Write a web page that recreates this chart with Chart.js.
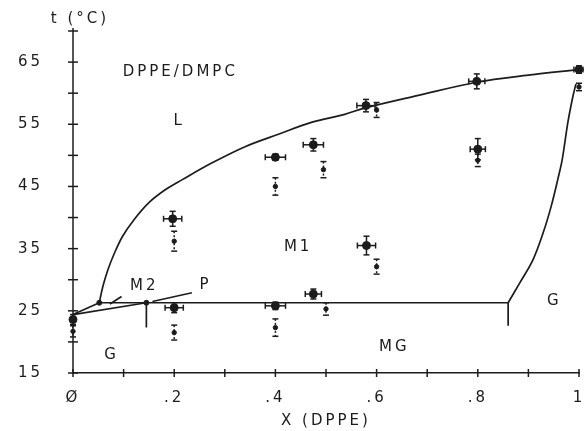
<!DOCTYPE html>
<html lang="en">
<head>
<meta charset="UTF-8">
<title>DPPE/DMPC</title>
<style>
  html, body { margin: 0; padding: 0; background: #fff; }
  #wrap { width: 584px; height: 431px; }
</style>
</head>
<body>
<div id="wrap"><canvas id="myChart"></canvas></div>
<script src="https://cdn.jsdelivr.net/npm/chart.js"></script>
<script>
// tick labels
const xTickValues = [0, 0.2, 0.4, 0.6, 0.8, 1];
const xTickLabels = ['Ø', '.2', '.4', '.6', '.8', '1'];
const yTickValues = [15, 25, 35, 45, 55, 65];
const yTickLabels = ['15', '25', '35', '45', '55', '65'];

// measured points, with x and t error bars
const bigX    = [0,    0.197, 0.2,   0.4,  0.4,  0.475, 0.475, 0.579, 0.58,  0.798, 0.8,   1.0];
const bigT    = [23.6, 39.8,  25.5,  49.7, 25.8, 51.7,  27.7,  58.0,  35.5,  61.9,  51.0,  63.8];
const bigXErr = [0,    0.018, 0.018, 0.02, 0.02, 0.02,  0.016, 0.018, 0.018, 0.016, 0.015, 0.01];
const bigTErr = [0.8,  1.2,   0.8,   0.5,  0.6,  1.0,   0.8,   1.0,   1.5,   1.2,   1.7,   0.6];

// second points, t error bars only
const smallX    = [0,    0.2,  0.2,  0.4,  0.4,  0.495, 0.5,  0.6,  0.6,  0.8,  1.0];
const smallT    = [21.7, 36.2, 21.5, 45.0, 22.3, 47.7,  25.3, 57.3, 32.1, 49.2, 61.0];
const smallTErr = [0.9,  1.6,  1.2,  1.4,  1.4,  1.3,   1.0,  1.2,  1.2,  1.0,  0.6];

// phase boundaries
const upperX = [0.052, 0.059, 0.069, 0.082, 0.098, 0.121, 0.150, 0.183, 0.216, 0.275, 0.34, 0.406, 0.471, 0.537, 0.576, 0.68, 0.8, 0.9, 1.0];
const upperT = [26.3, 28.9, 31.6, 34.3, 37.0, 39.7, 42.4, 44.5, 46.1, 48.8, 51.4, 53.4, 55.3, 56.6, 57.6, 59.6, 61.8, 62.9, 63.8];
const rightX = [0.86, 0.883, 0.909, 0.929, 0.945, 0.958, 0.967, 0.978, 0.988, 0.994];
const rightT = [26.3, 29.5, 33.2, 37.5, 41.8, 46.1, 49.4, 55.3, 59.5, 61.5];
const flatX = [0.052, 0.86];
const flatT = [26.3, 26.3];
const m2X = [0, 0.052];
const m2T = [24.4, 26.3];
const pX = [0, 0.145];
const pT = [24.4, 26.3];
const pMarkX = [0.145, 0.145];
const pMarkT = [26.3, 22.3];
const gMarkX = [0.86, 0.86];
const gMarkT = [26.3, 22.6];
const m2LeadX = [0.073, 0.096];
const m2LeadT = [26.1, 27.3];
const pLeadX = [0.157, 0.235];
const pLeadT = [26.5, 27.9];
const junctionX = [0.052, 0.145];
const junctionT = [26.3, 26.3];

// region labels
const regionText = ['DPPE/DMPC', 'L', 'M1', 'M2', 'P', 'G', 'MG', 'G'];
const regionX    = [0.212, 0.21, 0.445, 0.141, 0.262, 0.076, 0.635, 0.951];
const regionT    = [63.4,  55.5, 35.2,  29.0,  29.2,  17.9,  19.2,  26.5];

const ink = '#1c1c1c';
const pts = (xs, ts) => xs.map((x, i) => ({x: x, y: ts[i]}));

function lineSet(xs, ts, smooth) {
  return {
    type: 'line', data: pts(xs, ts), showLine: true,
    borderColor: ink, borderWidth: 1.7, pointRadius: 0,
    tension: smooth ? 0.35 : 0, clip: false
  };
}

const errorBars = {
  id: 'errorBars',
  afterDatasetsDraw(chart) {
    const c = chart.ctx, xs = chart.scales.x, ys = chart.scales.y;
    c.save();
    c.strokeStyle = ink;
    c.lineWidth = 1.5;
    const seg = (x1, y1, x2, y2) => { c.beginPath(); c.moveTo(x1, y1); c.lineTo(x2, y2); c.stroke(); };
    bigX.forEach((v, i) => {
      const px = xs.getPixelForValue(v), py = ys.getPixelForValue(bigT[i]);
      const t1 = ys.getPixelForValue(bigT[i] + bigTErr[i]), t2 = ys.getPixelForValue(bigT[i] - bigTErr[i]);
      seg(px, t1, px, t2); seg(px - 3, t1, px + 3, t1); seg(px - 3, t2, px + 3, t2);
      if (bigXErr[i] > 0) {
        const x1 = xs.getPixelForValue(v - bigXErr[i]), x2 = xs.getPixelForValue(v + bigXErr[i]);
        seg(x1, py, x2, py); seg(x1, py - 3, x1, py + 3); seg(x2, py - 3, x2, py + 3);
      }
    });
    smallX.forEach((v, i) => {
      const px = xs.getPixelForValue(v);
      const t1 = ys.getPixelForValue(smallT[i] + smallTErr[i]), t2 = ys.getPixelForValue(smallT[i] - smallTErr[i]);
      c.setLineDash([2, 2]);
      seg(px, t1, px, t2);
      c.setLineDash([]);
      seg(px - 3, t1, px + 3, t1); seg(px - 3, t2, px + 3, t2);
    });
    c.restore();
  }
};

const decor = {
  id: 'decor',
  beforeDraw(chart) { chart.ctx.letterSpacing = '3px'; },
  afterDraw(chart) {
    const c = chart.ctx, xs = chart.scales.x, ys = chart.scales.y;
    const a = chart.chartArea;
    c.save();
    c.strokeStyle = ink;
    c.fillStyle = ink;
    c.lineWidth = 1.5;
    // axis ticks through the axes
    for (let t = 15; t <= 70; t += 5) {
      const py = ys.getPixelForValue(t);
      c.beginPath(); c.moveTo(a.left - 5, py); c.lineTo(a.left + 5, py); c.stroke();
    }
    for (let k = 0; k <= 10; k++) {
      const px = xs.getPixelForValue(k / 10);
      c.beginPath(); c.moveTo(px, a.bottom - 4); c.lineTo(px, a.bottom + 4); c.stroke();
    }
    c.beginPath(); c.moveTo(a.left, a.top - 3); c.lineTo(a.left, a.bottom); c.stroke();
    c.font = '15px "DejaVu Sans"';
    c.letterSpacing = '3px';
    c.textAlign = 'center';
    c.textBaseline = 'middle';
    regionText.forEach((s, i) => {
      c.fillText(s, xs.getPixelForValue(regionX[i]), ys.getPixelForValue(regionT[i]));
    });
    c.fillText('t (°C)', 80, 19);
    c.restore();
  }
};

const ctx = document.getElementById('myChart');
new Chart(ctx, {
  type: 'scatter',
  data: {
    datasets: [
      lineSet(upperX, upperT, true),
      lineSet(rightX, rightT, true),
      lineSet(flatX, flatT),
      lineSet(m2X, m2T),
      lineSet(pX, pT),
      lineSet(pMarkX, pMarkT),
      lineSet(gMarkX, gMarkT),
      lineSet(m2LeadX, m2LeadT),
      lineSet(pLeadX, pLeadT),
      { data: pts(junctionX, junctionT), pointRadius: 2.5, backgroundColor: ink, borderColor: ink, clip: false },
      { data: pts(bigX, bigT), pointRadius: 4, backgroundColor: ink, borderColor: ink, clip: false },
      { data: pts(smallX, smallT), pointRadius: 2.2, backgroundColor: ink, borderColor: ink, clip: false }
    ]
  },
  options: {
    responsive: true,
    maintainAspectRatio: false,
    animation: false,
    layout: { padding: { top: 31, right: 0, left: 0, bottom: 0 } },
    plugins: { legend: { display: false }, tooltip: { enabled: false } },
    scales: {
      x: {
        type: 'linear', min: 0, max: 1,
        grid: { display: false, drawTicks: false },
        border: { display: true, color: ink, width: 1.5 },
        afterBuildTicks: s => { s.ticks = xTickValues.map(v => ({value: v})); },
        afterFit: s => { s.height = 58; s.paddingLeft = 0; s.paddingRight = 0; },
        ticks: {
          callback: (v, i) => xTickLabels[i],
          color: ink, font: { family: 'DejaVu Sans', size: 15 },
          padding: 16, maxRotation: 0, autoSkip: false
        },
        title: {
          display: true, text: 'X (DPPE)', color: ink,
          font: { family: 'DejaVu Sans', size: 15 },
          padding: { top: 0, bottom: 1 }
        }
      },
      y: {
        type: 'linear', min: 15, max: 70,
        grid: { display: false, drawTicks: false },
        border: { display: false },
        afterBuildTicks: s => { s.ticks = yTickValues.map(v => ({value: v})); },
        afterFit: s => { s.width = 73; s.paddingTop = 0; s.paddingBottom = 0; },
        ticks: {
          callback: (v, i) => yTickLabels[i],
          color: ink, font: { family: 'DejaVu Sans', size: 15 },
          padding: 30
        }
      }
    }
  },
  plugins: [errorBars, decor]
});
</script>
</body>
</html>
